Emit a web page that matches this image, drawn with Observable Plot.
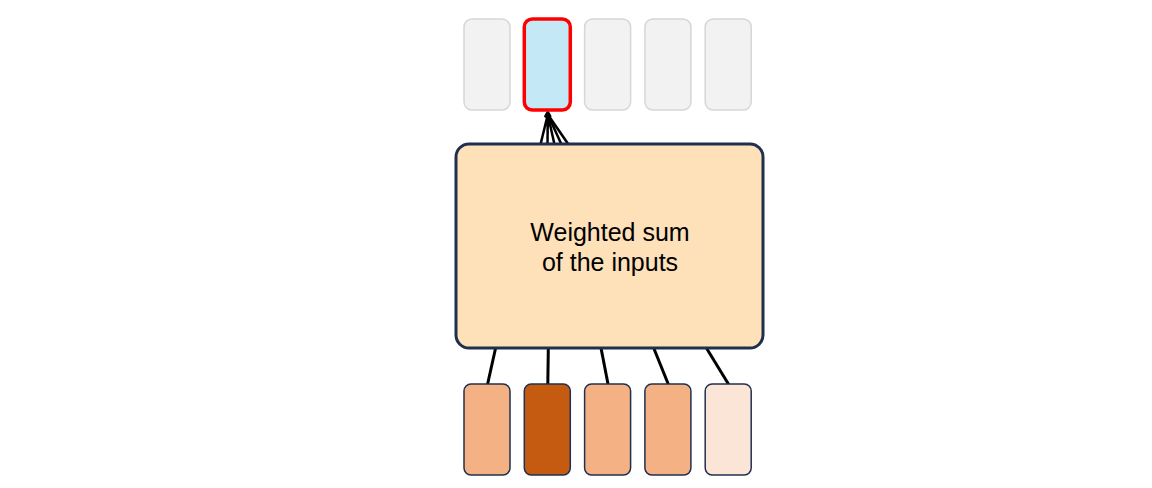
<!DOCTYPE html>
<html><head><meta charset="utf-8">
<script src="https://cdn.jsdelivr.net/npm/d3@7"></script>
<script src="https://cdn.jsdelivr.net/npm/@observablehq/plot@0.6"></script>
<style>body{margin:0;background:#fff}</style>
</head><body><div id="chart"></div>
<script>
// slots 0..4, input fills, output highlight
const slots = [0, 1, 2, 3, 4];
const inputFills = ["#f4b183", "#c55a11", "#f4b183", "#f4b183", "#fbe5d6"];
const outputFills = ["#f2f2f2", "#c5e8f6", "#f2f2f2", "#f2f2f2", "#f2f2f2"];
const activeOutput = 1;
const label = "Weighted sum\nof the inputs";

// layout in pixel units
const cx = i => 487 + 60.3 * i;
const halfW = 23;
const outRows = slots.map(i => ({i, x1: cx(i) - halfW, x2: cx(i) + halfW, y1: 19, y2: 110, fill: outputFills[i], active: i === activeOutput}));
const inRows = slots.map(i => ({i, x1: cx(i) - halfW, x2: cx(i) + halfW, y1: 384, y2: 475, fill: inputFills[i]}));
const box = {x1: 456, x2: 763, y1: 144, y2: 348};
const inLinks = slots.map(i => ({x1: 495 + 52.8 * i, y1: box.y2, x2: cx(i), y2: inRows[i].y1}));
const outLinks = slots.map(i => ({x1: 540 + 7 * i, y1: box.y1, x2: cx(activeOutput), y2: 114}));

const chart = Plot.plot({
  width: 1152, height: 488, margin: 0,
  x: {domain: [0, 1152], range: [0, 1152], axis: null},
  y: {domain: [0, 488], range: [0, 488], axis: null},
  marks: [
    Plot.link(inLinks, {x1: "x1", y1: "y1", x2: "x2", y2: "y2", stroke: "#000", strokeWidth: 3}),
    Plot.link(outLinks, {x1: "x1", y1: "y1", x2: "x2", y2: "y2", stroke: "#000", strokeWidth: 2.5}),
    Plot.arrow([{x1: cx(activeOutput), y1: 125, x2: cx(activeOutput), y2: 112}], {x1: "x1", y1: "y1", x2: "x2", y2: "y2", stroke: "#000", strokeWidth: 3, headLength: 12}),
    Plot.rect(outRows, {x1: "x1", x2: "x2", y1: "y1", y2: "y2", fill: "fill", stroke: d => d.active ? "#ff0000" : "#d6d6d6", strokeWidth: d => d.active ? 3.5 : 1.5, rx: 8}),
    Plot.rect(inRows, {x1: "x1", x2: "x2", y1: "y1", y2: "y2", fill: "fill", stroke: "#203050", strokeWidth: 1.5, rx: 7}),
    Plot.rect([box], {x1: "x1", x2: "x2", y1: "y1", y2: "y2", fill: "#fee0b9", stroke: "#1f2f4f", strokeWidth: 3, rx: 13}),
    Plot.text([label], {x: (box.x1 + box.x2) / 2, y: (box.y1 + box.y2) / 2, text: d => d, fontSize: 25, lineHeight: 1.2, fill: "#000", fontFamily: "Liberation Sans, Arial, sans-serif"})
  ]
});
document.getElementById("chart").append(chart);
</script>
</body></html>
